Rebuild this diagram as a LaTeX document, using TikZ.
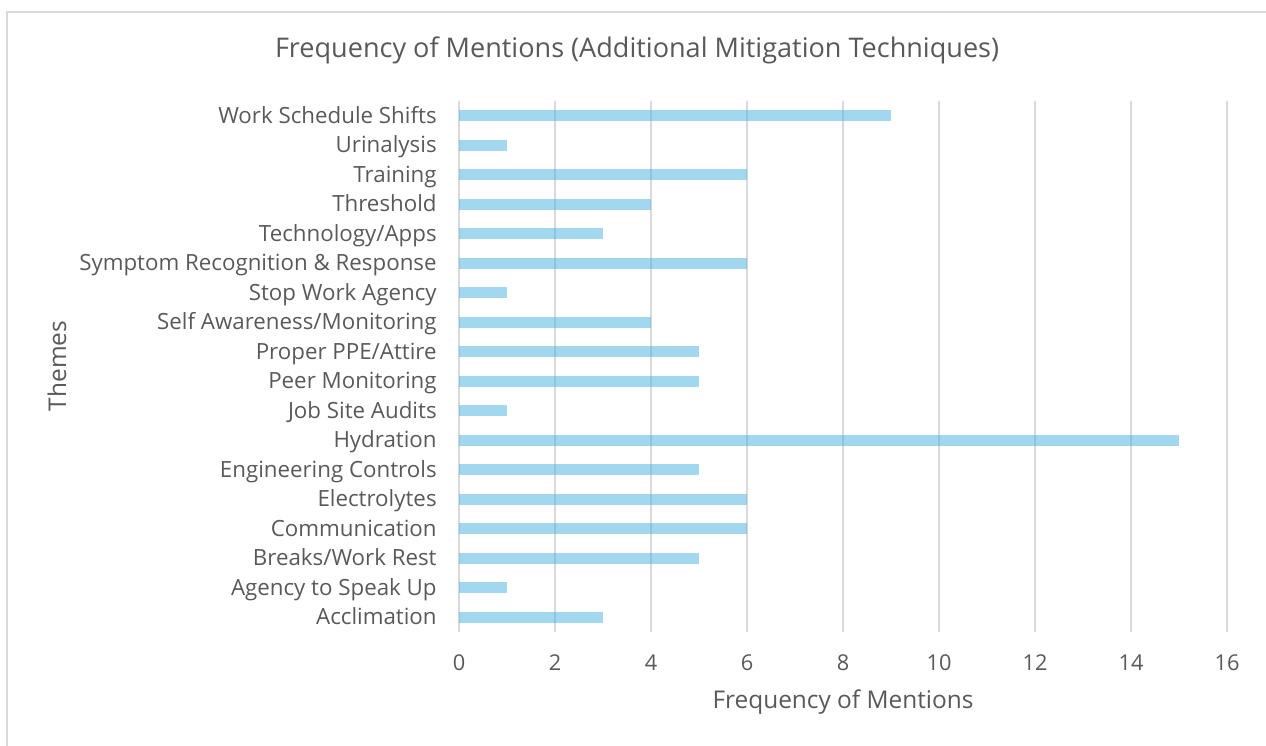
\documentclass[tikz,border=0pt]{standalone}
\usepackage{fontspec}
\setmainfont{Open Sans}
\usetikzlibrary{calc}

\definecolor{barblue}{RGB}{69,176,225}
\definecolor{gridgray}{RGB}{217,217,217}
\definecolor{textgray}{RGB}{89,89,89}

\tikzset{
	bar/.style={fill=barblue, fill opacity=0.5, draw=none},
	gridline/.style={draw=gridgray, line width=1.1pt},
	themelabel/.style={anchor=base east, text=textgray, inner sep=0pt, font=\fontsize{12.7}{15}\selectfont},
	ticklabel/.style={text=textgray, inner sep=0pt, font=\fontsize{12.4}{14}\selectfont},
	axistitle/.style={text=textgray, inner sep=0pt, font=\fontsize{13.9}{16}\selectfont}
}

\begin{document}
\begin{tikzpicture}[x=0.02cm, y=-0.02cm]
			%%%%% START %%%%%
			\useasboundingbox (0, 0) rectangle (1266, 746);
			
			% chart frame
			\draw[gridgray, line width=1.1pt] (7, 760) -- (7, 12) -- (1280, 12);
			
			\node[axistitle, font=\fontsize{15.4}{18}\selectfont] (title) at (637, 50) {Frequency of Mentions (Additional Mitigation Techniques)};
			
			% vertical grid and x ticks
			\foreach \v in {0, 2, ..., 16} {
				\draw[gridline] (459+48*\v, 101) -- (459+48*\v, 632);
				\node[ticklabel] (tick\v) at (459+48*\v, 663) {\v};
			}
			
			% bars, top to bottom
			\foreach \name/\val [count=\i from 0] in {
				Work Schedule Shifts/9, Urinalysis/1, Training/6, Threshold/4,
				Technology\slash Apps/3, Symptom Recognition \& Response/6,
				Stop Work Agency/1, Self Awareness\slash Monitoring/4,
				Proper PPE\slash Attire/5, Peer Monitoring/5, Job Site Audits/1,
				Hydration/15, Engineering Controls/5, Electrolytes/6,
				Communication/6, Breaks\slash Work Rest/5, Agency to Speak Up/1,
				Acclimation/3} {
				\pgfmathsetmacro{\ry}{101+29.5*(\i+0.5)}
				\fill[bar] (459, \ry-5.5) rectangle (459+48*\val, \ry+5.5);
				\node[themelabel] (theme\i) at (437, \ry+7.5) {\name};
			}
			
			\node[axistitle] (xtitle) at (843, 702) {Frequency of Mentions};
			\node[axistitle, rotate=90] (ytitle) at (57, 366) {Themes};
			
			%%%%% END %%%%%
\end{tikzpicture}
\end{document}
